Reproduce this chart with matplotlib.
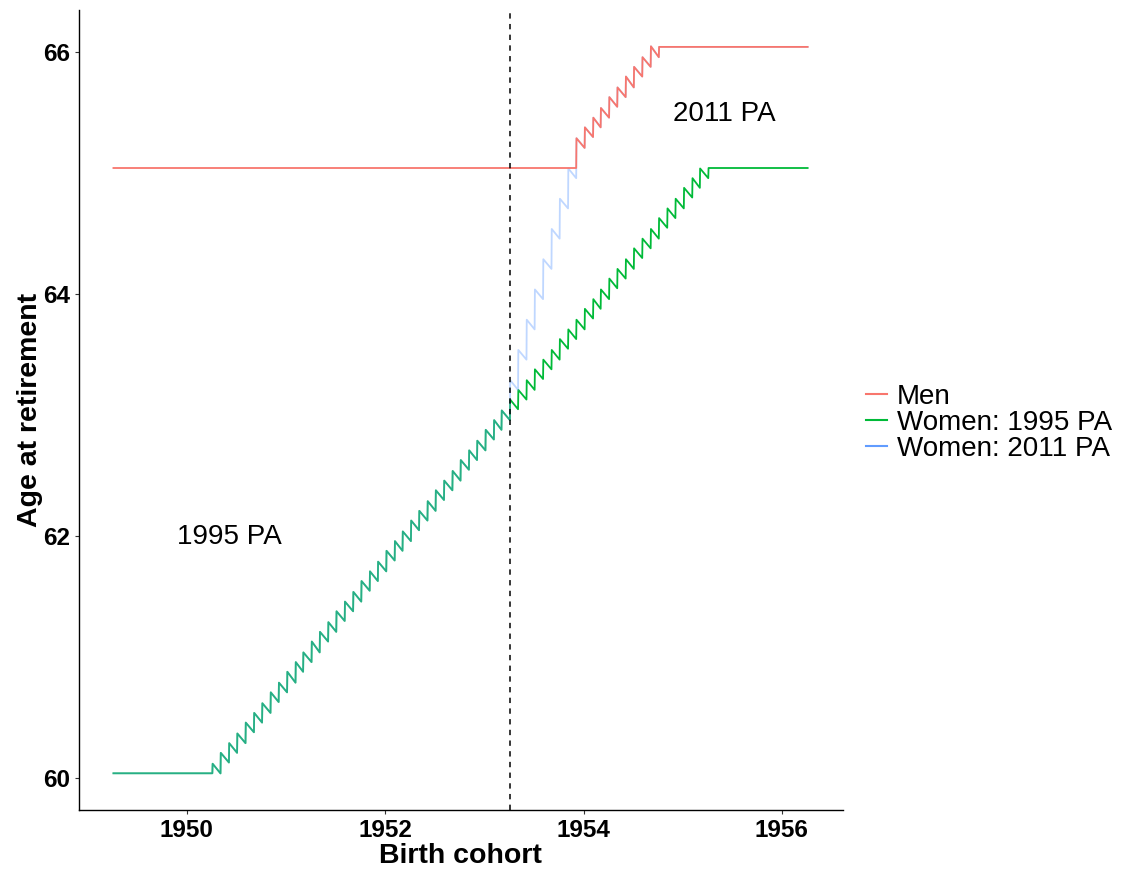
import matplotlib
matplotlib.use("Agg")
import matplotlib.pyplot as plt
from matplotlib.lines import Line2D
import pandas as pd

plt.rcParams["font.family"] = ["Liberation Sans", "DejaVu Sans"]

# ---------------- data ----------------
# Birth cohorts run from the 6th of one month to the 5th of the next.
series_labels = ["Men", "Women: 1995 PA", "Women: 2011 PA"]
series_colors = ["#F8766D", "#00BA38", "#619CFF"]

first_birth = "1949-04-06"
last_birth = "1956-04-05"
cutoff_date = "1953-04-06"          # dashed line

# flat ages (years, measured as days/365)
age_60 = 60.041
age_65 = 65.044
age_66 = 66.045

# Women, 1995 Pensions Act: 60 monthly cohorts from 6 Apr 1950
w95_start = "1950-04-06"
w95_end_flat = "1955-04-06"
w95_peak = [60.12, 60.21, 60.29, 60.37, 60.46, 60.54, 60.62, 60.71, 60.79, 60.88,
            60.96, 61.04, 61.13, 61.21, 61.29, 61.38, 61.46, 61.54, 61.63, 61.71,
            61.79, 61.88, 61.96, 62.04, 62.13, 62.21, 62.29, 62.38, 62.46, 62.54,
            62.63, 62.71, 62.79, 62.88, 62.96, 63.04, 63.13, 63.21, 63.29, 63.38,
            63.46, 63.54, 63.63, 63.71, 63.79, 63.88, 63.96, 64.04, 64.13, 64.21,
            64.29, 64.38, 64.46, 64.54, 64.63, 64.71, 64.79, 64.88, 64.96, 65.04]
w95_trough = [60.04, 60.13, 60.21, 60.29, 60.38, 60.46, 60.54, 60.63, 60.71, 60.79,
              60.88, 60.96, 61.04, 61.13, 61.21, 61.30, 61.38, 61.46, 61.55, 61.63,
              61.71, 61.80, 61.88, 61.96, 62.05, 62.13, 62.21, 62.30, 62.38, 62.46,
              62.55, 62.63, 62.71, 62.80, 62.88, 62.96, 63.05, 63.13, 63.21, 63.30,
              63.38, 63.46, 63.55, 63.63, 63.71, 63.80, 63.88, 63.96, 64.05, 64.13,
              64.21, 64.30, 64.38, 64.46, 64.55, 64.63, 64.71, 64.80, 64.88, 64.96]

# Women, 2011 Pensions Act: 8 accelerated cohorts from 6 Apr 1953
w11_start = "1953-04-06"
w11_n_same_as_1995 = 36
w11_peak = [63.29, 63.54, 63.79, 64.04, 64.29, 64.54, 64.79, 65.04]
w11_trough = [63.21, 63.46, 63.71, 63.96, 64.21, 64.46, 64.71, 64.96]

# Men (and women), 2011 Pensions Act: 10 cohorts from 6 Dec 1953
men_start = "1953-12-06"
men_end_flat = "1954-10-06"
men_peak = [65.29, 65.38, 65.46, 65.54, 65.63, 65.71, 65.80, 65.88, 65.96, 66.05]
men_trough = [65.21, 65.30, 65.38, 65.46, 65.55, 65.63, 65.71, 65.80, 65.88, 65.96]

x_ticks = [1950, 1952, 1954, 1956]
y_ticks = [60, 62, 64, 66]


# ---------------- helpers ----------------
def dec_year(d):
    d = pd.Timestamp(d)
    n = 366 if d.is_leap_year else 365
    return d.year + (d.dayofyear - 1) / n


def saw(start, peaks, troughs):
    starts = pd.date_range(start, periods=len(peaks), freq=pd.DateOffset(months=1))
    xs, ys = [], []
    for s, p, t in zip(starts, peaks, troughs):
        e = s + pd.DateOffset(months=1) - pd.Timedelta(days=1)
        xs += [dec_year(s), dec_year(e)]
        ys += [p, t]
    return xs, ys


def flat(d0, d1, a):
    return [dec_year(d0), dec_year(d1)], [a, a]


def join(*parts):
    xs, ys = [], []
    for px, py in parts:
        xs += px
        ys += py
    return xs, ys


def day_before(d):
    return pd.Timestamp(d) - pd.Timedelta(days=1)


men_x, men_y = join(flat(first_birth, day_before(men_start), age_65),
                    saw(men_start, men_peak, men_trough),
                    flat(men_end_flat, last_birth, age_66))
w95_x, w95_y = join(flat(first_birth, day_before(w95_start), age_60),
                    saw(w95_start, w95_peak, w95_trough),
                    flat(w95_end_flat, last_birth, age_65))
w11_x, w11_y = join(flat(first_birth, day_before(w95_start), age_60),
                    saw(w95_start, w95_peak[:w11_n_same_as_1995], w95_trough[:w11_n_same_as_1995]),
                    saw(w11_start, w11_peak, w11_trough),
                    saw(men_start, men_peak, men_trough),
                    flat(men_end_flat, last_birth, age_66))

# ---------------- figure ----------------
fig = plt.figure(figsize=(11.29, 8.69), dpi=100)
ax = fig.add_axes([78.7 / 1129, 1 - 809.7 / 869, (842.7 - 78.7) / 1129, (809.7 - 10) / 869])

lw = 1.3
ax.plot(w95_x, w95_y, color=series_colors[1], lw=lw, zorder=2)
ax.plot(w11_x, w11_y, color=series_colors[2], lw=lw, alpha=0.4, zorder=3)
ax.plot(men_x, men_y, color=series_colors[0], lw=lw, zorder=4)

ax.axvline(dec_year(cutoff_date), color="black", lw=1.1, ls=(0, (3.5, 3.5)), zorder=5)

ax.text(1950.43, 61.99, "1995 PA", fontsize=20, ha="center", va="center")
ax.text(1955.42, 65.49, "2011 PA", fontsize=20, ha="center", va="center")

ax.set_xlim(1948.91, 1956.613)
ax.set_ylim(59.74, 66.35)
ax.set_xticks(x_ticks)
ax.set_yticks(y_ticks)
ax.set_xticklabels([str(t) for t in x_ticks])
ax.set_yticklabels([str(t) for t in y_ticks])
for lab in ax.get_xticklabels() + ax.get_yticklabels():
    lab.set_fontweight("bold")
    lab.set_fontsize(17.5)
ax.tick_params(length=3, width=0.8, color="#333333", pad=3.5)

for s in ["top", "right"]:
    ax.spines[s].set_visible(False)
for s in ["left", "bottom"]:
    ax.spines[s].set_linewidth(1.0)
    ax.spines[s].set_color("black")

ax.set_xlabel("Birth cohort", fontsize=20.5, fontweight="bold", labelpad=1)
ax.set_ylabel("Age at retirement", fontsize=20.5, fontweight="bold", labelpad=0)

handles = [Line2D([0], [0], color=c, lw=1.5) for c in series_colors]
fig.legend(handles, series_labels, loc="center left",
           bbox_to_anchor=(866 / 1129, 1 - 423 / 869), frameon=False,
           fontsize=20, handlelength=0.75, handletextpad=0.35,
           labelspacing=0.0, borderpad=0, borderaxespad=0)

fig.savefig("out.png", dpi=100, facecolor="white")
